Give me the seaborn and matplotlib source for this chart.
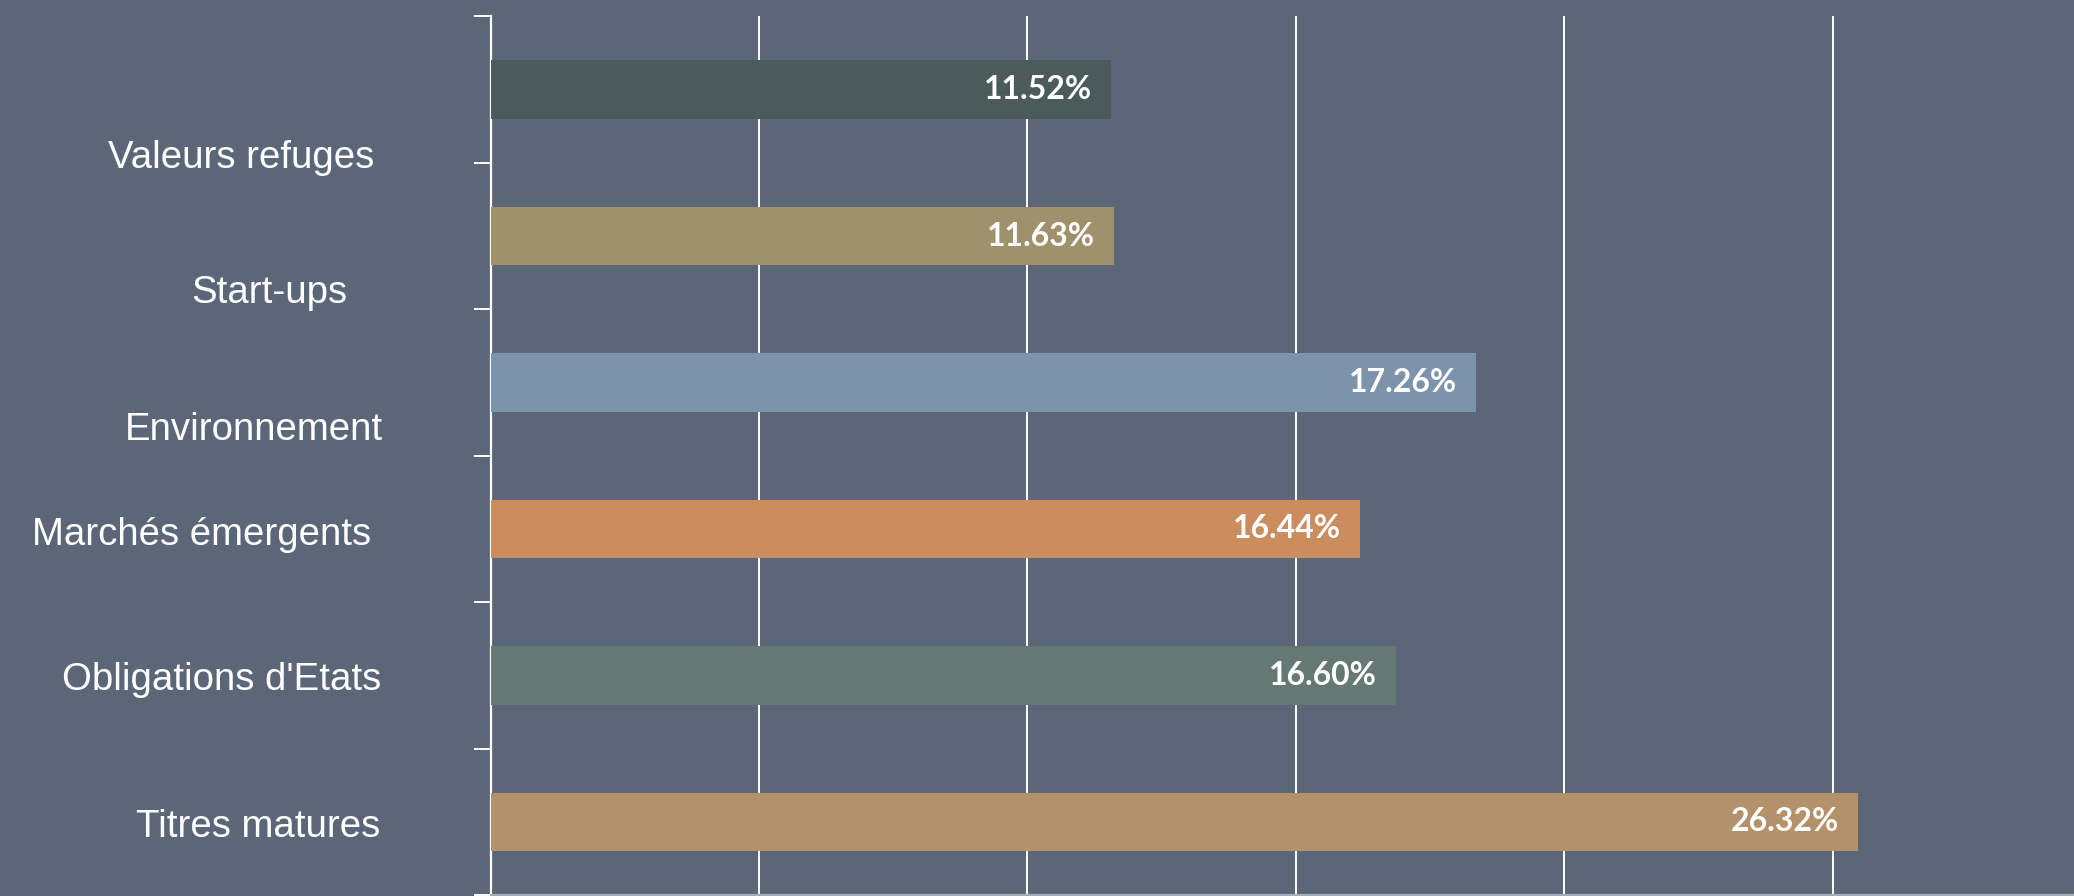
import matplotlib
matplotlib.use("Agg")
import matplotlib.pyplot as plt
import seaborn as sns
import pandas as pd

# ---- data ----
categories = ["Valeurs refuges", "Start-ups", "Environnement",
              "Marchés émergents", "Obligations d'Etats", "Titres matures"]
bar_values = [11.55, 11.61, 18.35, 16.19, 16.86, 25.46]
value_labels = ["11.52%", "11.63%", "17.26%", "16.44%", "16.60%", "26.32%"]
bar_colors = ["#4b5a5a", "#9e916b", "#7c93ab", "#cb8c5e", "#667873", "#b3926b"]

# ---- layout (label placement in figure pixels, from the top-left) ----
label_right_px = [374, 347, 383, 371, 381, 380]
label_baseline_px = [168, 303, 440, 545, 690, 837]

BG = "#5b6778"
W, H, DPI = 2074, 896, 100

sns.set_theme(style="white")
plt.rcParams["font.family"] = ["Liberation Sans", "DejaVu Sans"]

fig = plt.figure(figsize=(W / DPI, H / DPI), dpi=DPI, facecolor=BG)
ax_left, ax_top, ax_bottom = 490.5, 16.5, 895.0
ax = fig.add_axes([ax_left / W, 1 - ax_bottom / H, 1 - ax_left / W, (ax_bottom - ax_top) / H])
ax.set_facecolor(BG)

df = pd.DataFrame({"cat": categories, "val": bar_values})
sns.barplot(data=df, x="val", y="cat", hue="cat", palette=bar_colors,
            orient="h", width=0.4, legend=False, ax=ax, saturation=1,
            linewidth=0, edgecolor="none", zorder=3)

ax.set_xlim(0, 29.49)
ax.set_ylim(len(categories) - 0.5, -0.5)
ax.set_xticks([5, 10, 15, 20, 25])
ax.set_xticklabels([])
ax.tick_params(axis="x", length=0)
ax.grid(axis="x", color="white", linewidth=1.4, zorder=0)
ax.set_axisbelow(True)

ax.set_yticks([i - 0.5 for i in range(len(categories) + 1)])
ax.set_yticklabels([])
ax.tick_params(axis="y", length=12, width=1.4, color="white", direction="out", left=True)
ax.set_xlabel("")
ax.set_ylabel("")

for s in ["top", "right"]:
    ax.spines[s].set_visible(False)
ax.spines["left"].set_color("white")
ax.spines["left"].set_linewidth(1.6)
ax.spines["bottom"].set_color("#a7adb6")
ax.spines["bottom"].set_linewidth(1.6)

# value labels inside the bars
for i, (v, txt) in enumerate(zip(bar_values, value_labels)):
    ax.annotate(txt, xy=(v, i), xytext=(-13.5, 0), textcoords="offset points",
                ha="right", va="center", color="white", fontsize=23,
                fontweight="bold", family=["Lato", "DejaVu Sans"], zorder=5)

# category labels
for name, xr, yb in zip(categories, label_right_px, label_baseline_px):
    fig.text(xr / W, 1 - yb / H, name, ha="right", va="baseline",
             color="white", fontsize=27.6)

fig.savefig("out.png", dpi=DPI, facecolor=BG)
